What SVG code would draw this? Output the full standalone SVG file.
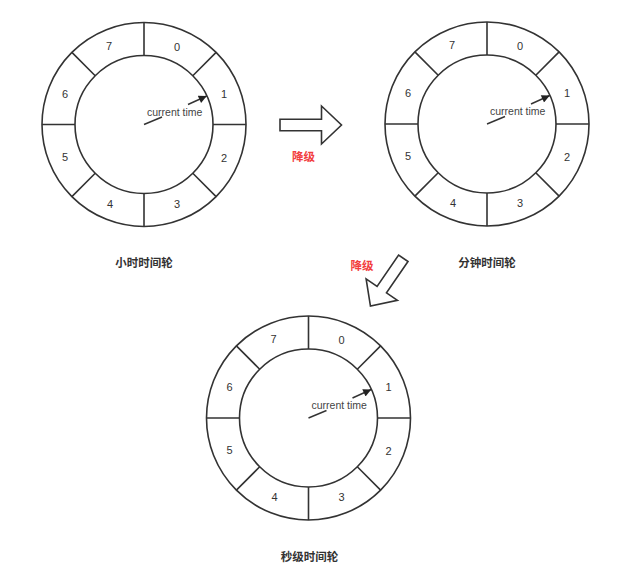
<svg xmlns="http://www.w3.org/2000/svg" width="625" height="573" viewBox="0 0 625 573">
<style>
.ring{fill:none;stroke:#333;stroke-width:1.6}
.sep{stroke:#333;stroke-width:1.6}
.num{font-family:"Liberation Sans","Noto Sans",sans-serif;font-size:11px;fill:#333;text-anchor:middle;dominant-baseline:central}
.ct{font-family:"Liberation Sans","Noto Sans",sans-serif;font-size:10.5px;fill:#444;dominant-baseline:central}
.ptr{stroke:#333;stroke-width:1.4;fill:none}
.cap{font-family:"Noto Sans CJK SC","Noto Sans",sans-serif;font-size:11.5px;font-weight:bold;fill:#333;text-anchor:middle;dominant-baseline:central}
.red{font-family:"Noto Sans CJK SC","Noto Sans",sans-serif;font-size:11.5px;font-weight:bold;fill:#f23d3d;text-anchor:middle;dominant-baseline:central}
.blk{fill:#fff;stroke:#333;stroke-width:1.6;stroke-linejoin:miter}
</style>
<defs>
<marker id="ah" viewBox="0 0 10 10" refX="10" refY="5" markerWidth="13" markerHeight="8" markerUnits="userSpaceOnUse" orient="auto">
<path d="M0,0 L10,5 L0,10 Z" fill="#222"/>
</marker>
</defs>
<rect width="625" height="573" fill="#fff"/>

<g id="wheel-hour" transform="translate(144,124.5)">
<circle class="ring" r="102"/>
<circle class="ring" r="69"/>
<path class="sep" d="M0,-102V-69M0,69V102M-102,0H-69M69,0H102M72.1,-72.1L48.8,-48.8M-72.1,-72.1L-48.8,-48.8M72.1,72.1L48.8,48.8M-72.1,72.1L-48.8,48.8"/>
<text class="num" x="33" y="-78">0</text>
<text class="num" x="80" y="-31">1</text>
<text class="num" x="80" y="33">2</text>
<text class="num" x="33" y="79">3</text>
<text class="num" x="-34" y="79">4</text>
<text class="num" x="-79" y="32">5</text>
<text class="num" x="-79" y="-31">6</text>
<text class="num" x="-35" y="-79">7</text>
<text class="ct" x="3" y="-13">current time</text>
<path class="ptr" d="M0,0L18,-7.5"/>
<path class="ptr" d="M44,-20L62.7,-28.5" marker-end="url(#ah)"/>
<text class="cap" x="0" y="137">小时时间轮</text>
</g>

<g id="wheel-minute" transform="translate(487,124)">
<circle class="ring" r="102"/>
<circle class="ring" r="69"/>
<path class="sep" d="M0,-102V-69M0,69V102M-102,0H-69M69,0H102M72.1,-72.1L48.8,-48.8M-72.1,-72.1L-48.8,-48.8M72.1,72.1L48.8,48.8M-72.1,72.1L-48.8,48.8"/>
<text class="num" x="33" y="-78">0</text>
<text class="num" x="80" y="-31">1</text>
<text class="num" x="80" y="33">2</text>
<text class="num" x="33" y="79">3</text>
<text class="num" x="-34" y="79">4</text>
<text class="num" x="-79" y="32">5</text>
<text class="num" x="-79" y="-31">6</text>
<text class="num" x="-35" y="-79">7</text>
<text class="ct" x="3" y="-13">current time</text>
<path class="ptr" d="M0,0L18,-7.5"/>
<path class="ptr" d="M44,-20L62.7,-28.5" marker-end="url(#ah)"/>
<text class="cap" x="0" y="138">分钟时间轮</text>
</g>

<g id="wheel-second" transform="translate(308.5,418)">
<circle class="ring" r="102"/>
<circle class="ring" r="69"/>
<path class="sep" d="M0,-102V-69M0,69V102M-102,0H-69M69,0H102M72.1,-72.1L48.8,-48.8M-72.1,-72.1L-48.8,-48.8M72.1,72.1L48.8,48.8M-72.1,72.1L-48.8,48.8"/>
<text class="num" x="33" y="-78">0</text>
<text class="num" x="80" y="-31">1</text>
<text class="num" x="80" y="33">2</text>
<text class="num" x="33" y="79">3</text>
<text class="num" x="-34" y="79">4</text>
<text class="num" x="-79" y="32">5</text>
<text class="num" x="-79" y="-31">6</text>
<text class="num" x="-35" y="-79">7</text>
<text class="ct" x="3" y="-13">current time</text>
<path class="ptr" d="M0,0L18,-7.5"/>
<path class="ptr" d="M44,-20L62.7,-28.5" marker-end="url(#ah)"/>
<text class="cap" x="1" y="138">秒级时间轮</text>
</g>

<g id="connectors">
<g id="arrow-hour-to-minute">
<path class="blk" d="M280,119.3H321.5V106L341.5,125L321.5,144V130.7H280Z"/>
<text class="red" x="303.5" y="155.5">降级</text>
</g>
<g id="arrow-minute-to-second">
<path class="blk" transform="translate(403.3,258.3) rotate(124.5)" d="M0,-5.7H38V-19L58,0L38,19V5.7H0Z"/>
<text class="red" x="362" y="264.5">降级</text>
</g>
</g>
</svg>
